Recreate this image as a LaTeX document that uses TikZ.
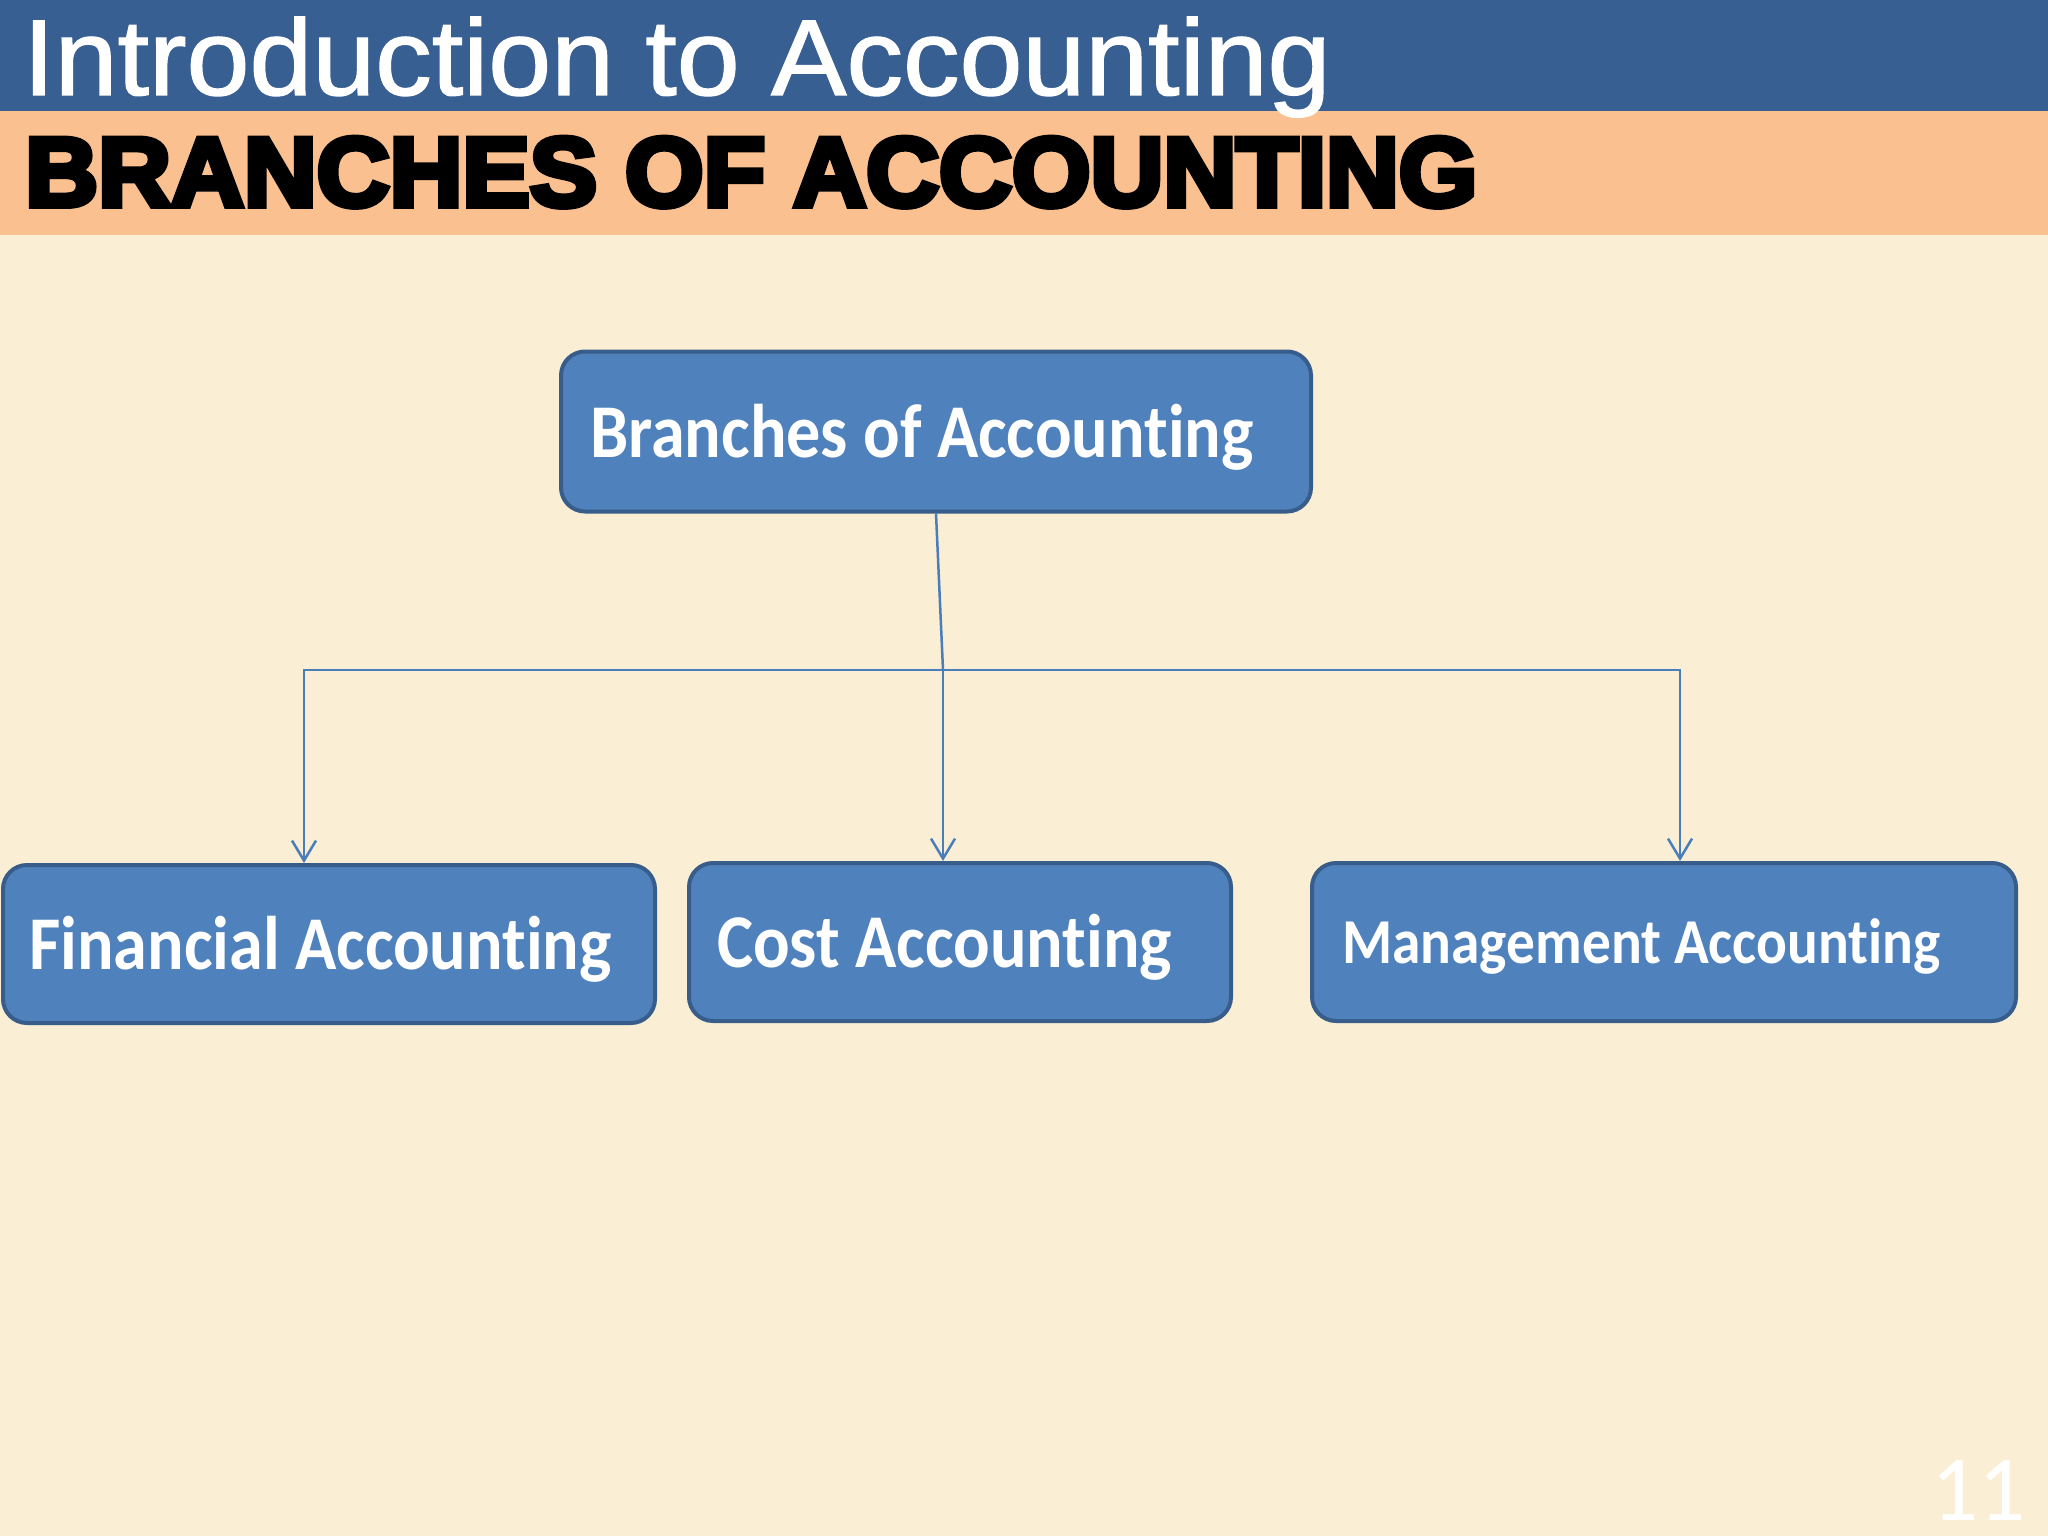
\documentclass[tikz,border=0pt]{standalone}
\usepackage{fontspec}
\setmainfont{Liberation Sans}
\newfontfamily\calfont{Carlito}[Ligatures=NoCommon]
\newfontfamily\titlefont{Liberation Sans}[FakeBold=1.2]
\newfontfamily\heavyfont{Liberation Sans}[BoldFeatures={FakeBold=6}]
\usetikzlibrary{arrows.meta,calc}
\definecolor{bgcream}{HTML}{FAEFD4}
\definecolor{bandblue}{HTML}{385F92}
\definecolor{bandorange}{HTML}{FAC090}
\definecolor{boxfill}{HTML}{4F81BD}
\definecolor{boxline}{HTML}{385D8A}
\definecolor{linec}{HTML}{4A7EBB}
\newcommand{\sqz}[1]{\scalebox{0.897}[1]{#1}}
\tikzset{
  box/.style={rectangle, rounded corners=24pt, draw=boxline, line width=4pt, fill=boxfill, inner sep=0pt},
  boxtxt/.style={anchor=base west, inner sep=0pt, text=white, font=\calfont\bfseries\fontsize{76}{90}\selectfont},
  arr/.style={draw=linec, line width=2.5pt, -{Straight Barb[length=20pt,width=24pt,line width=2.5pt]}},
  conn/.style={draw=linec, line width=2.5pt}
}
\begin{document}
\begin{tikzpicture}[x=1pt,y=-1pt]
\useasboundingbox (0,0) rectangle (2048,1536);
\fill[bgcream] (0,0) rectangle (2048,1536);
\fill[bandblue] (0,0) rectangle (2048,111);
\fill[bandorange] (0,111) rectangle (2048,235);
\node[anchor=base west, inner sep=0pt, text=white, font=\titlefont\fontsize{108}{120}\selectfont] (title) at (23,95) {\scalebox{1.047}[1]{Introduction to Accounting}};
\node[anchor=base west, inner sep=0pt, text=black, font=\heavyfont\bfseries\fontsize{98}{110}\selectfont] (subtitle) at (25,206) {\scalebox{1.03}[1]{BRANCHES OF ACCOUNTING}};

\node[box, minimum width=750pt, minimum height=160pt] (top) at (936,431.5) {};
\node[box, minimum width=652pt, minimum height=158pt] (fin) at (329,944) {};
\node[box, minimum width=542pt, minimum height=158pt] (cost) at (960,942) {};
\node[box, minimum width=704pt, minimum height=158pt] (mgmt) at (1664,942) {};

\node[boxtxt] (toptxt) at (590,457) {\sqz{Branches of Accounting}};
\node[boxtxt] (fintxt) at (29,969) {\sqz{Financial Accounting}};
\node[boxtxt] (costtxt) at (717,967) {\sqz{Cost Accounting}};
\node[boxtxt, font=\calfont\bfseries\fontsize{64}{76}\selectfont] (mgmttxt) at (1342,963) {\sqz{Management Accounting}};

\coordinate (hub) at (943,670);
\draw[conn] (top.south) -- (hub);
\draw[arr] (hub) -| ([xshift=-25pt]fin.north);
\draw[arr] (hub) -- ([xshift=-17pt]cost.north);
\draw[arr] (hub) -| ([xshift=16pt]mgmt.north);

\node[anchor=base east, inner sep=0pt, text=white, font=\calfont\fontsize{93}{100}\selectfont] (pnum) at (2026,1520) {11};
\end{tikzpicture}
\end{document}
